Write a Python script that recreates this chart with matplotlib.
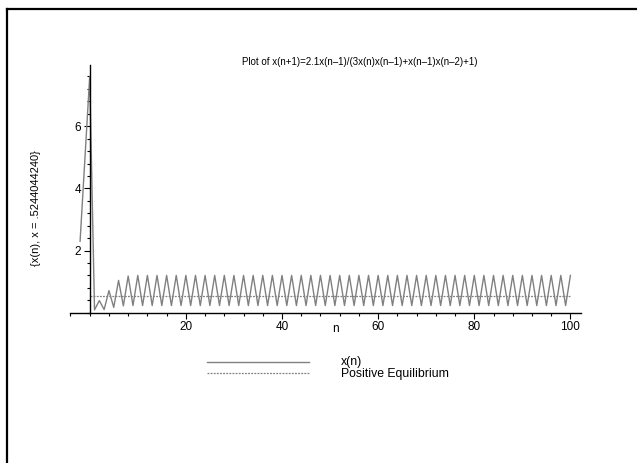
import matplotlib
matplotlib.use("Agg")
import matplotlib.pyplot as plt
from matplotlib.lines import Line2D
from matplotlib.ticker import MultipleLocator

plt.rcParams['font.family'] = ['Liberation Sans', 'DejaVu Sans']

# ---- data ----
n_values = list(range(-2, 101))
x_values = [
    2.3, 4.95, 7.6, 0.09, 0.39, 0.10, 0.71, 0.17, 1.04, 0.22,
    1.18, 0.23, 1.2, 0.23, 1.2, 0.23, 1.2, 0.23, 1.2, 0.23,
    1.2, 0.23, 1.2, 0.23, 1.2, 0.23, 1.2, 0.23, 1.2, 0.23,
    1.2, 0.23, 1.2, 0.23, 1.2, 0.23, 1.2, 0.23, 1.2, 0.23,
    1.2, 0.23, 1.2, 0.23, 1.2, 0.23, 1.2, 0.23, 1.2, 0.23,
    1.2, 0.23, 1.2, 0.23, 1.2, 0.23, 1.2, 0.23, 1.2, 0.23,
    1.2, 0.23, 1.2, 0.23, 1.2, 0.23, 1.2, 0.23, 1.2, 0.23,
    1.2, 0.23, 1.2, 0.23, 1.2, 0.23, 1.2, 0.23, 1.2, 0.23,
    1.2, 0.23, 1.2, 0.23, 1.2, 0.23, 1.2, 0.23, 1.2, 0.23,
    1.2, 0.23, 1.2, 0.23, 1.2, 0.23, 1.2, 0.23, 1.2, 0.23,
    1.2, 0.23, 1.2,
]
equilibrium = 0.5244044240
eq_n = [0, 100]
eq_values = [equilibrium, equilibrium]

title = "Plot of x(n+1)=2.1x(n\u20131)/(3x(n)x(n\u20131)+x(n\u20131)x(n\u20132)+1)"
ylabel = "{x(n), x = .5244044240}"
xlabel = "n"
legend_labels = ["x(n)", "Positive Equilibrium"]
x_major = [20, 40, 60, 80, 100]
y_major = [2, 4, 6]

W, H = 637, 463
fig = plt.figure(figsize=(W / 100, H / 100), dpi=100)

def fx(px):
    return px / W

def fy(py):
    return 1 - py / H

ax_left, ax_right = 70, 581
ax_bottom, ax_top = 312.7, 65
ax = fig.add_axes([fx(ax_left), fy(ax_bottom), fx(ax_right - ax_left), (ax_bottom - ax_top) / H])

line_color = '#808080'
ax.plot(n_values, x_values, color=line_color, lw=1.0)
ax.plot(eq_n, eq_values, color=line_color, lw=0.9, ls=(0, (1.5, 1)))

ax.set_xlim(-4.1, 102.2)
ax.set_ylim(0, 7.97)

for s in ['top', 'right']:
    ax.spines[s].set_visible(False)
ax.spines['left'].set_position(('data', 0))
ax.spines['left'].set_linewidth(1.0)
ax.spines['bottom'].set_linewidth(1.0)

ax.set_xticks(x_major)
ax.set_yticks(y_major)
ax.xaxis.set_minor_locator(MultipleLocator(4))
ax.yaxis.set_minor_locator(MultipleLocator(0.4))
ax.tick_params(axis='both', which='major', direction='out', length=4, width=0.8,
               labelsize=8.5, pad=2)
ax.tick_params(axis='both', which='minor', direction='out', length=2.5, width=0.8)

fig.text(fx(360), fy(62), title, ha='center', va='center', fontsize=7)
fig.text(fx(335), fy(329), xlabel, ha='center', va='center', fontsize=8.5)
fig.text(fx(36), fy(208), ylabel, ha='center', va='center', rotation=90, fontsize=8)

# legend
fig.add_artist(Line2D([fx(207), fx(309)], [fy(361.7), fy(361.7)], color=line_color, lw=1.0))
fig.add_artist(Line2D([fx(207), fx(309)], [fy(372.5), fy(372.5)], color=line_color, lw=0.9,
                      ls=(0, (1.5, 1))))
fig.text(fx(341), fy(364.5), legend_labels[0], ha='left', va='baseline', fontsize=8.8)
fig.text(fx(341), fy(377), legend_labels[1], ha='left', va='baseline', fontsize=8.8)

# frame lines
fig.add_artist(Line2D([fx(7), fx(7)], [fy(9), fy(H)], color='black', lw=1.6))
fig.add_artist(Line2D([fx(7), fx(W)], [fy(9), fy(9)], color='black', lw=1.6))

fig.savefig("out.png", dpi=100)
